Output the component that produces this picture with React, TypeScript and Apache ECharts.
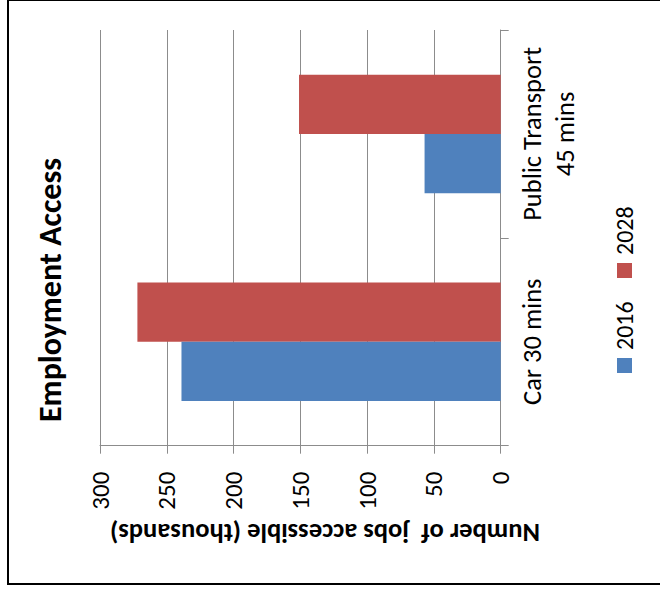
import React, { useEffect, useRef } from "react";
import * as echarts from "echarts";

// Categories listed bottom-to-top along the vertical category axis
const categories = ["Car 30 mins", "Public Transport\n45 mins"];
const seriesNames = ["2016", "2028"];
const values2016 = [239, 57];
const values2028 = [272, 151];
const valueTicks = { min: 0, max: 300, interval: 50 };

const FONT = "Carlito, Lato, sans-serif";
const BLUE = "#4F81BD";
const RED = "#C0504D";
const GRID = "#8c8c8c";

export default function App() {
  const ref = useRef<HTMLDivElement>(null);

  useEffect(() => {
    if (!ref.current) return;
    const chart = echarts.init(ref.current, null, { renderer: "svg" });
    const deg90 = Math.PI / 2;

    chart.setOption({
      animation: false,
      backgroundColor: "#ffffff",
      textStyle: { fontFamily: FONT, color: "#000" },
      grid: { left: 100, right: 159.3, top: 30, bottom: 144.3 },
      xAxis: {
        type: "value",
        inverse: true,
        position: "bottom",
        min: valueTicks.min,
        max: valueTicks.max,
        interval: valueTicks.interval,
        axisLine: { show: true, lineStyle: { color: GRID, width: 1 } },
        axisTick: { show: true, length: 8, lineStyle: { color: GRID } },
        splitLine: { show: true, lineStyle: { color: GRID, width: 1 } },
        axisLabel: {
          rotate: 90,
          margin: 26,
          fontSize: 25,
          fontFamily: FONT,
          color: "#000",
        },
      },
      yAxis: {
        type: "category",
        position: "right",
        data: categories,
        axisLine: { show: true, lineStyle: { color: GRID, width: 1 } },
        axisTick: { show: true, length: 8, lineStyle: { color: GRID } },
        splitLine: { show: false },
        axisLabel: {
          interval: 0,
          hideOverlap: false,
          rotate: 90,
          margin: 15,
          fontSize: 26.5,
          lineHeight: 33,
          fontFamily: FONT,
          color: "#000",
        },
      },
      // bars within a band are laid top-down in series order: 2028 above 2016
      series: [
        {
          name: seriesNames[1],
          type: "bar",
          data: values2028,
          itemStyle: { color: RED },
          barGap: "0%",
          barCategoryGap: "43%",
        },
        {
          name: seriesNames[0],
          type: "bar",
          data: values2016,
          itemStyle: { color: BLUE },
          barGap: "0%",
          barCategoryGap: "43%",
        },
      ],
      graphic: [
        {
          type: "rect",
          shape: { x: 8, y: 0, width: 660, height: 584 },
          style: { fill: "none", stroke: "#000", lineWidth: 2 },
          silent: true,
        },
        {
          type: "text",
          x: 50,
          y: 290,
          rotation: deg90,
          style: {
            text: "Employment Access",
            font: `bold 32px ${FONT}`,
            fill: "#000",
            align: "center",
            verticalAlign: "middle",
          },
        },
        {
          type: "text",
          x: 325,
          y: 533,
          rotation: Math.PI,
          style: {
            text: "Number of  jobs accessible (thousands)",
            font: `bold 26.5px ${FONT}`,
            fill: "#000",
            align: "center",
            verticalAlign: "middle",
          },
        },
        // legend
        {
          type: "rect",
          shape: { x: 617, y: 358, width: 15, height: 15 },
          style: { fill: BLUE },
        },
        {
          type: "text",
          x: 624,
          y: 350,
          rotation: deg90,
          style: {
            text: seriesNames[0],
            font: `24px ${FONT}`,
            fill: "#000",
            align: "left",
            verticalAlign: "middle",
          },
        },
        {
          type: "rect",
          shape: { x: 617, y: 263, width: 15, height: 15 },
          style: { fill: RED },
        },
        {
          type: "text",
          x: 624,
          y: 255,
          rotation: deg90,
          style: {
            text: seriesNames[1],
            font: `24px ${FONT}`,
            fill: "#000",
            align: "left",
            verticalAlign: "middle",
          },
        },
      ],
    });

    return () => chart.dispose();
  }, []);

  return (
    <div
      ref={ref}
      style={{ position: "absolute", left: 0, top: 0, width: 660, height: 590 }}
    />
  );
}
